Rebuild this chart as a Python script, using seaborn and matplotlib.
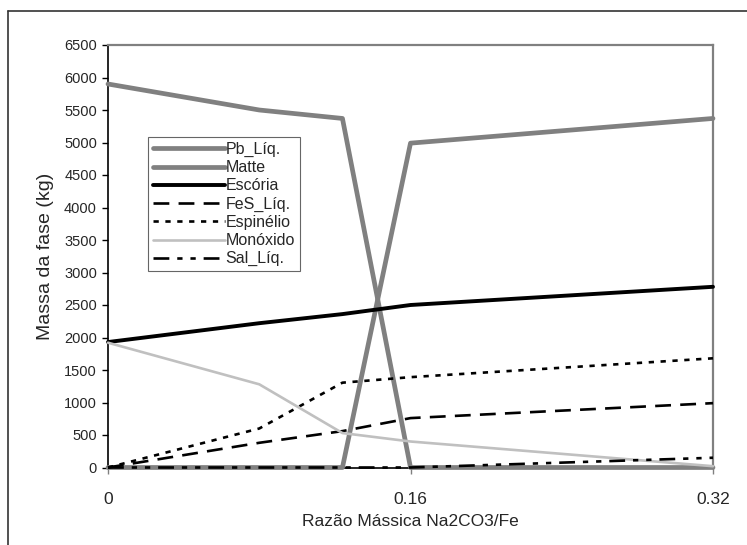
import matplotlib
matplotlib.use('Agg')
import matplotlib.pyplot as plt
import seaborn as sns
from matplotlib.lines import Line2D

# Dados
razao = [0, 0.08, 0.124, 0.16, 0.32]
pb_liq = [5900, 5500, 5370, 0, 0]
matte = [0, 0, 0, 4990, 5370]
escoria = [1930, 2220, 2360, 2500, 2780]
fes_liq = [0, 380, 560, 760, 990]
espinelio = [0, 600, 1305, 1390, 1680]
monoxido = [1920, 1280, 530, 400, 20]
sal_liq = [0, 0, 0, 0, 150]

series = [
    ('Pb_Líq.', pb_liq, '#808080', 3.4, '-'),
    ('Matte', matte, '#808080', 3.4, '-'),
    ('Escória', escoria, 'black', 2.8, '-'),
    ('FeS_Líq.', fes_liq, 'black', 1.9, (0, (6, 3.5))),
    ('Espinélio', espinelio, 'black', 1.9, (0, (2, 2.5))),
    ('Monóxido', monoxido, '#c0c0c0', 1.9, '-'),
    ('Sal_Líq.', sal_liq, 'black', 1.9, (0, (6, 3, 2, 3, 2, 3))),
]

sns.set_style('white')
plt.rcParams['font.family'] = ['Liberation Sans', 'DejaVu Sans']

fig = plt.figure(figsize=(7.47, 5.45), dpi=100)
ax = fig.add_axes([108 / 747, 1 - 467.5 / 545, 605 / 747, 422.5 / 545])

handles = []
for nome, vals, cor, lw, ls in series:
    sns.lineplot(x=razao, y=vals, ax=ax, color=cor, linewidth=lw,
                 linestyle=ls, clip_on=False, zorder=3)
    handles.append(Line2D([], [], color=cor, linewidth=lw, linestyle=ls))

ax.set_xlim(0, 0.32)
ax.set_ylim(0, 6500)
ax.set_xticks([0, 0.16, 0.32])
ax.set_xticklabels(['0', '0.16', '0.32'])
ax.set_yticks(range(0, 6501, 500))

for s in ['top', 'right']:
    ax.spines[s].set_color('#808080')
    ax.spines[s].set_linewidth(1.6)
for s in ['left', 'bottom']:
    ax.spines[s].set_color('black')
    ax.spines[s].set_linewidth(1.2)

ax.tick_params(axis='y', direction='out', length=4, width=1, color='black',
               labelsize=10.5, pad=4, left=True)
ax.tick_params(axis='x', direction='out', length=4, width=1, color='#808080',
               labelsize=12.5, pad=14, bottom=True)

ax.set_xlabel('Razão Mássica Na2CO3/Fe', fontsize=12.5, labelpad=5)
ax.set_ylabel('Massa da fase (kg)', fontsize=14, labelpad=7)

leg = ax.legend(handles, [s[0] for s in series], loc='upper left',
                bbox_to_anchor=(0.066, 0.782), fontsize=11.5, handlelength=4.5,
                handletextpad=0.05, labelspacing=0.2, borderpad=0.3,
                borderaxespad=0, fancybox=False, frameon=True)
leg.get_frame().set_edgecolor('#404040')
leg.get_frame().set_linewidth(0.8)

# moldura externa
fig.add_artist(Line2D([8 / 747, 8 / 747], [0, 1 - 11 / 545], color='#333333',
                      linewidth=1.2, transform=fig.transFigure))
fig.add_artist(Line2D([8 / 747, 1], [1 - 11 / 545, 1 - 11 / 545], color='#333333',
                      linewidth=1.2, transform=fig.transFigure))

fig.savefig('out.png', dpi=100)
